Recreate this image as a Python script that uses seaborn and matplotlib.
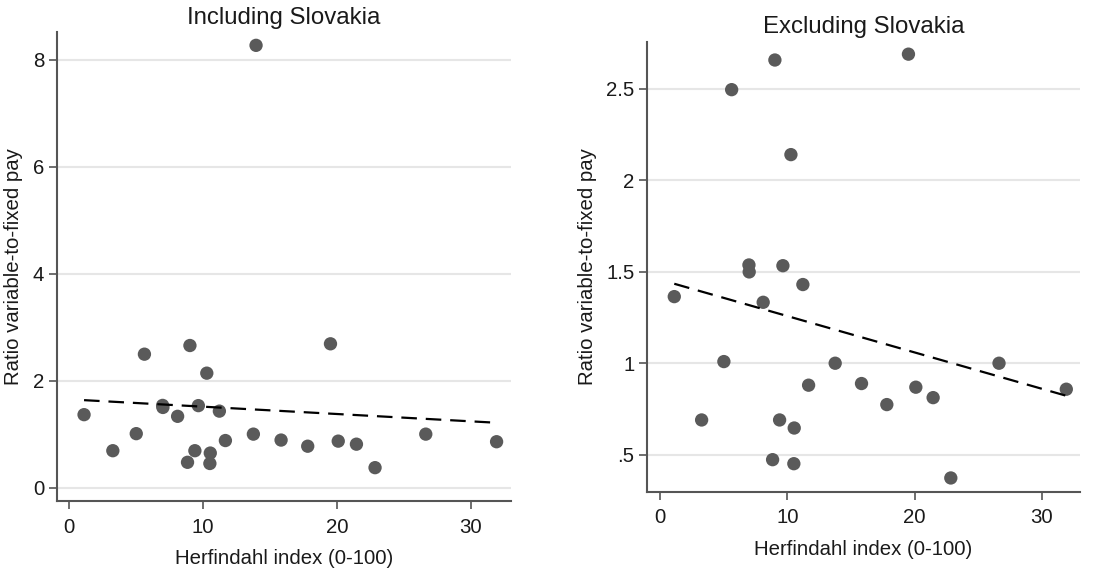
import matplotlib
matplotlib.use("Agg")
import matplotlib.pyplot as plt
import seaborn as sns
import pandas as pd

# Data
herfindahl = [1.10, 3.25, 5.00, 5.61, 6.97, 6.99, 8.09, 8.83, 9.01, 9.38,
              9.64, 10.27, 10.50, 10.53, 11.21, 11.66, 13.75, 15.82, 17.81,
              19.51, 20.09, 21.45, 22.84, 26.63, 31.92]
ratio = [1.364, 0.690, 1.009, 2.495, 1.537, 1.499, 1.333, 0.473, 2.657, 0.690,
         1.533, 2.140, 0.451, 0.646, 1.430, 0.880, 1.000, 0.889, 0.774,
         2.689, 0.869, 0.812, 0.373, 1.000, 0.858]
slovakia_herfindahl = [13.95]
slovakia_ratio = [8.27]

titles = ["Including Slovakia", "Excluding Slovakia"]
xlabel = "Herfindahl index (0-100)"
ylabel = "Ratio variable-to-fixed pay"
left_yticks = [0, 2, 4, 6, 8]
left_yticklabels = ["0", "2", "4", "6", "8"]
right_yticks = [0.5, 1, 1.5, 2, 2.5]
right_yticklabels = [".5", "1", "1.5", "2", "2.5"]
xticks = [0, 10, 20, 30]

df_excl = pd.DataFrame({"herf": herfindahl, "ratio": ratio})
df_incl = pd.concat([df_excl, pd.DataFrame({"herf": slovakia_herfindahl,
                                            "ratio": slovakia_ratio})],
                    ignore_index=True)

sns.set_theme(style="white")
plt.rcParams["font.family"] = ["Liberation Sans", "DejaVu Sans"]

fig = plt.figure(figsize=(11.04, 5.73), dpi=100)
ax1 = fig.add_axes([0.0514, 0.1257, 0.4115, 0.8185])
ax2 = fig.add_axes([0.5861, 0.1419, 0.3922, 0.7853])

marker_color = "#5a5a5a"
spine_color = "#555555"
text_color = "#1a1a1a"

def style(ax, df, title, yticks, yticklabels, ylim, xlim):
    sns.regplot(data=df, x="herf", y="ratio", ax=ax, ci=None,
                scatter_kws=dict(s=92, color=marker_color, edgecolor="none",
                                 alpha=1, zorder=3),
                line_kws=dict(color="black", lw=1.6, dashes=(7, 4), zorder=4))
    ax.set_xlim(*xlim)
    ax.set_ylim(*ylim)
    ax.set_xticks(xticks)
    ax.set_xticklabels([str(t) for t in xticks])
    ax.set_yticks(yticks)
    ax.set_yticklabels(yticklabels)
    ax.yaxis.grid(True, color="#e6e6e6", lw=1.5, zorder=0)
    ax.xaxis.grid(False)
    ax.set_axisbelow(True)
    for s in ["top", "right"]:
        ax.spines[s].set_visible(False)
    for s in ["left", "bottom"]:
        ax.spines[s].set_color(spine_color)
        ax.spines[s].set_linewidth(1.5)
    ax.tick_params(axis="both", direction="out", length=5.5, width=1.2,
                   color=spine_color, labelsize=14.7, labelcolor=text_color,
                   bottom=True, left=True)
    ax.tick_params(axis="x", pad=6.5)
    ax.tick_params(axis="y", pad=3.5)
    ax.set_xlabel(xlabel, fontsize=14.7, color=text_color, labelpad=9)
    ax.set_ylabel(ylabel, fontsize=14.7, color=text_color, labelpad=7)
    ax.set_title(title, fontsize=17.3, color=text_color, pad=6)

style(ax1, df_incl, titles[0], left_yticks, left_yticklabels,
      (-0.25, 8.52), (-0.94, 33.0))
style(ax2, df_excl, titles[1], right_yticks, right_yticklabels,
      (0.298, 2.757), (-1.04, 33.0))

fig.savefig("out.png", dpi=100)
